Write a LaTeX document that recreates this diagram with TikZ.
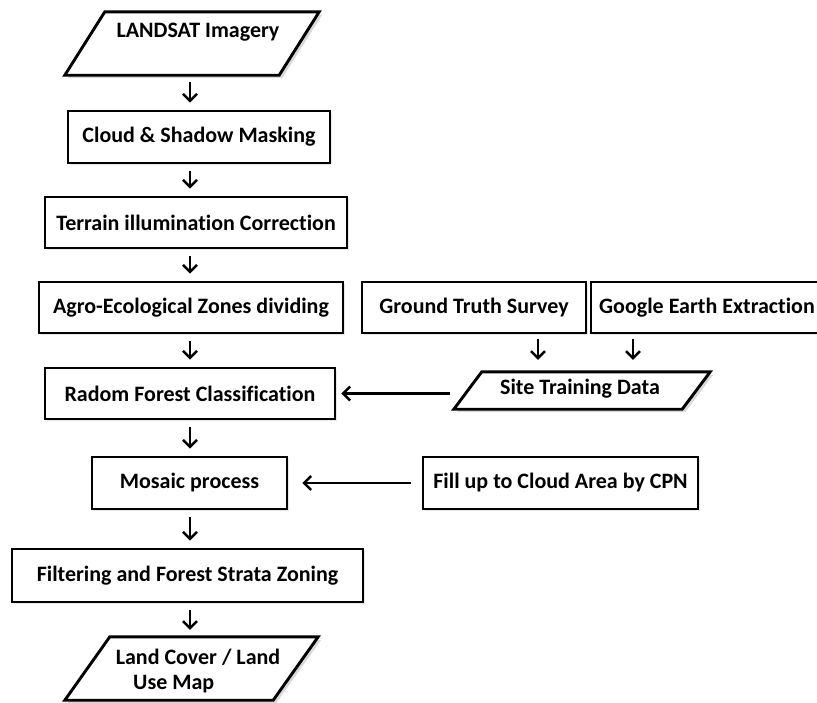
\documentclass[tikz,border=0pt]{standalone}
\usepackage{fontspec}
\setmainfont[Ligatures=NoCommon]{Carlito}
\usetikzlibrary{arrows.meta,calc,shadows}

\begin{document}
\begin{tikzpicture}[x=1pt,y=-1pt,
  txt/.style={inner sep=0pt, font=\fontsize{22}{26}\selectfont\bfseries},
  box/.style={txt, draw, line width=2.9pt, rectangle, fill=white,
    drop shadow={shadow xshift=1.5pt, shadow yshift=-1.5pt, opacity=0.18}},
  frame/.style={inner sep=0pt, draw=none, rectangle},
  para/.style={draw, line width=2.9pt, line join=miter, fill=white,
    drop shadow={shadow xshift=3pt, shadow yshift=-3pt, opacity=0.3}},
  flow/.style={-{Straight Barb[length=7pt,width=14pt,line width=2.4pt]}, line width=2.5pt,
    shorten <=7pt, shorten >=7pt},
]
\useasboundingbox (0,0) rectangle (817,702);
\clip (0,0) rectangle (817,702);

% vertical axis of the main processing chain
\coordinate (axis) at (190,0);

% input / output parallelogram frames
\node[frame, minimum width=254pt, minimum height=63pt] (landsat) at (192,43.5) {};
\node[frame, minimum width=256pt, minimum height=37pt] (site) at (582,390.5) {};
\node[frame, minimum width=253pt, minimum height=63pt] (lulc) at (191.5,668.5) {};

\draw[para] ($(landsat.north west)+(40,0)$) -- (landsat.north east)
  -- ($(landsat.south east)+(-40,0)$) -- (landsat.south west) -- cycle;
\draw[para] ($(site.north west)+(28,0)$) -- (site.north east)
  -- ($(site.south east)+(-28,0)$) -- (site.south west) -- cycle;
\draw[para] ($(lulc.north west)+(45,0)$) -- (lulc.north east)
  -- ($(lulc.south east)+(-45,0)$) -- (lulc.south west) -- cycle;

\node[txt] (landsatText) at (198,32) {LANDSAT Imagery};
\node[txt] (siteText) at (580,389) {Site Training Data};
\node[txt] (lulcText1) at (198,657) {Land Cover / Land};
\node[txt, anchor=west] (lulcText2) at (133,684) {Use Map};

% processing steps
\node[box, minimum width=262pt, minimum height=52pt] (cloud) at (199,137) {Cloud \& Shadow Masking};
\node[box, minimum width=302pt, minimum height=51pt] (terrain) at (196,222.5) {Terrain illumination Correction};
\node[box, minimum width=304pt, minimum height=51pt] (agro) at (191,307.5) {Agro-Ecological Zones dividing};
\node[box, minimum width=290pt, minimum height=51pt] (radom) at (190,393.5) {Radom Forest Classification};
\node[box, minimum width=224pt, minimum height=51pt] (ground) at (474,307.5) {Ground Truth Survey};
\node[box, minimum width=232pt, minimum height=51pt] (google) at (707,307.5) {Google Earth Extraction};
\node[box, minimum width=195pt, minimum height=52pt] (mosaic) at (189.5,483) {Mosaic process};
\node[box, minimum width=275pt, minimum height=52pt] (fill) at (560.5,483) {Fill up to Cloud Area by CPN};
\node[box, minimum width=351pt, minimum height=53pt] (filter) at (187.5,575.5) {Filtering and Forest Strata Zoning};

% main chain
\draw[flow] (landsat.south -| axis) -- (cloud.north -| axis);
\draw[flow] (cloud.south -| axis) -- (terrain.north -| axis);
\draw[flow] (terrain.south -| axis) -- (agro.north -| axis);
\draw[flow] (agro.south -| axis) -- (radom.north -| axis);
\draw[flow] (radom.south -| axis) -- (mosaic.north -| axis);
\draw[flow] (mosaic.south -| axis) -- (filter.north -| axis);
\draw[flow] (filter.south -| axis) -- (lulc.north -| axis);

% training data branch
\draw[flow, shorten <=5pt, shorten >=12pt] ([xshift=64pt]ground.south) -- ([xshift=64pt]ground.south |- site.north);
\draw[flow, shorten <=5pt, shorten >=12pt] ([xshift=-74pt]google.south) -- ([xshift=-74pt]google.south |- site.north);
\draw[flow, shorten <=4pt, shorten >=5pt] (site.west |- radom.east) -- (radom.east);

% cloud gap filling
\draw[flow, shorten <=11pt, shorten >=14pt] (fill.west) -- (mosaic.east);
\end{tikzpicture}
\end{document}
